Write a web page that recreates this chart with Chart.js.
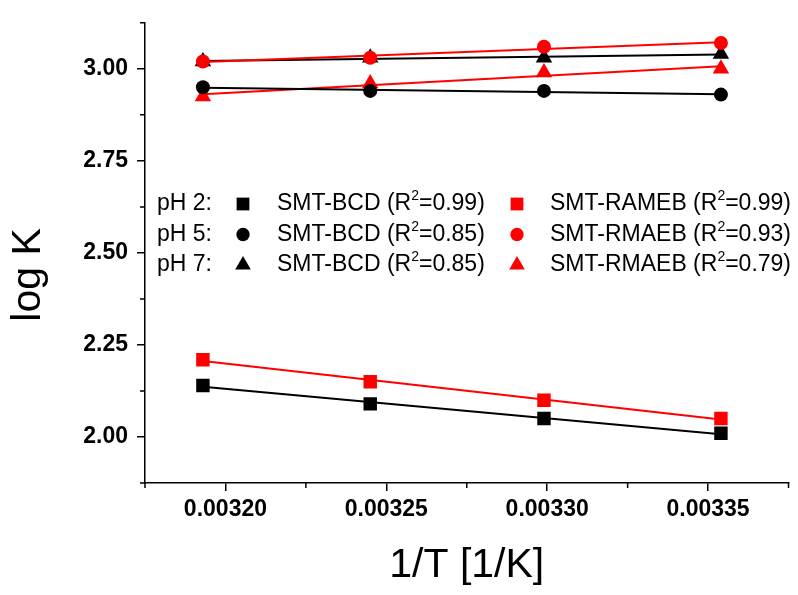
<!DOCTYPE html>
<html>
<head>
<meta charset="utf-8">
<script src="https://cdn.jsdelivr.net/npm/chart.js@4.4.0/dist/chart.umd.min.js"></script>
<style>
  html, body { margin: 0; padding: 0; background: #fff; }
  #wrap { width: 798px; height: 595px; }
</style>
</head>
<body>
<div id="wrap"><canvas id="myChart" width="798" height="595"></canvas></div>
<script>
// 1/T in 1/K (40, 35, 30, 25 °C)
const invT = [0.003193, 0.003245, 0.003299, 0.003354];

// log K values
const bcdPH2 = [2.14, 2.09, 2.05, 2.01];
const ramebPH2 = [2.21, 2.15, 2.10, 2.05];
const bcdPH5 = [2.95, 2.94, 2.94, 2.93];
const rmaebPH5 = [3.02, 3.03, 3.06, 3.07];
const bcdPH7 = [3.02, 3.03, 3.03, 3.04];
const rmaebPH7 = [2.925, 2.96, 2.99, 3.00];

const xTicks = [0.00320, 0.00325, 0.00330, 0.00335];
const xTickLabels = ['0.00320', '0.00325', '0.00330', '0.00335'];
const xMinor = [0.003175, 0.003225, 0.003275, 0.003325, 0.003375];
const yTicks = [2.00, 2.25, 2.50, 2.75, 3.00];
const yTickLabels = ['2.00', '2.25', '2.50', '2.75', '3.00'];
const yMinor = [1.875, 2.125, 2.375, 2.625, 2.875, 3.125];

const phLabels = ['pH 2:', 'pH 5:', 'pH 7:'];
const markerStyles = ['rect', 'circle', 'triangle'];
const blackNames = ['SMT-BCD', 'SMT-BCD', 'SMT-BCD'];
const blackR2 = ['0.99', '0.85', '0.85'];
const redNames = ['SMT-RAMEB', 'SMT-RMAEB', 'SMT-RMAEB'];
const redR2 = ['0.99', '0.93', '0.79'];

const FONT = "'Liberation Sans', Arial, sans-serif";
const RED = '#ff0000';
const BLACK = '#000000';
const markerRadius = { rect: 9.5, circle: 7, triangle: 9.5 };
const LEG = 23;

// straight least-squares line between the first and last x
function fitLine(xs, ys) {
  const n = xs.length;
  const mx = xs.reduce((a, b) => a + b, 0) / n;
  const my = ys.reduce((a, b) => a + b, 0) / n;
  let sxy = 0, sxx = 0;
  for (let i = 0; i < n; i++) {
    sxy += (xs[i] - mx) * (ys[i] - my);
    sxx += (xs[i] - mx) * (xs[i] - mx);
  }
  const slope = sxy / sxx;
  const icpt = my - slope * mx;
  return [xs[0], xs[n - 1]].map(x => ({ x: x, y: icpt + slope * x }));
}

function toPoints(ys) {
  return invT.map((x, i) => ({ x: x, y: ys[i] }));
}

const series = [
  { ys: bcdPH2, color: BLACK, style: 'rect' },
  { ys: ramebPH2, color: RED, style: 'rect' },
  { ys: bcdPH5, color: BLACK, style: 'circle' },
  { ys: rmaebPH5, color: RED, style: 'circle' },
  { ys: bcdPH7, color: BLACK, style: 'triangle' },
  { ys: rmaebPH7, color: RED, style: 'triangle' }
];

let datasets = [];
series.forEach(s => {
  datasets.push({
    type: 'line',
    data: fitLine(invT, s.ys),
    borderColor: s.color,
    borderWidth: 2,
    pointRadius: 0,
    fill: false,
    order: 2
  });
  datasets.push({
    type: 'scatter',
    data: toPoints(s.ys),
    pointStyle: s.style,
    pointRadius: markerRadius[s.style],
    pointBackgroundColor: s.color,
    pointBorderWidth: 0,
    showLine: false,
    order: 1
  });
});

const minorTicks = {
  id: 'minorTicks',
  afterDraw(chart) {
    const ctx = chart.ctx;
    const x = chart.scales.x, y = chart.scales.y;
    ctx.save();
    ctx.strokeStyle = BLACK;
    ctx.lineWidth = 1.5;
    ctx.beginPath();
    xMinor.forEach(v => {
      const px = x.getPixelForValue(v);
      ctx.moveTo(px, x.top);
      ctx.lineTo(px, x.top + 5);
    });
    yMinor.forEach(v => {
      const py = y.getPixelForValue(v);
      ctx.moveTo(y.right, py);
      ctx.lineTo(y.right - 5, py);
    });
    ctx.stroke();
    ctx.restore();
  }
};

const textBits = {
  id: 'textBits',
  afterDraw(chart) {
    const ctx = chart.ctx;
    ctx.save();
    ctx.fillStyle = BLACK;
    // y axis title
    ctx.translate(29, 275);
    ctx.rotate(-Math.PI / 2);
    ctx.font = '41px ' + FONT;
    ctx.textAlign = 'center';
    ctx.textBaseline = 'middle';
    ctx.fillText('log K', 0, 0);
    ctx.restore();

    // legend block
    const rowY = [204, 234.5, 265];
    const drawR2 = (name, r2, x, y) => {
      ctx.font = LEG + 'px ' + FONT;
      ctx.textAlign = 'left';
      ctx.textBaseline = 'middle';
      const head = name + ' (R';
      ctx.fillText(head, x, y);
      let w = ctx.measureText(head).width;
      ctx.font = '14px ' + FONT;
      ctx.fillText('2', x + w, y - 7.5);
      w += ctx.measureText('2').width;
      ctx.font = LEG + 'px ' + FONT;
      ctx.fillText('=' + r2 + ')', x + w, y);
    };
    for (let i = 0; i < 3; i++) {
      const y = rowY[i];
      ctx.save();
      ctx.fillStyle = BLACK;
      ctx.font = LEG + 'px ' + FONT;
      ctx.textAlign = 'left';
      ctx.textBaseline = 'middle';
      ctx.fillText(phLabels[i], 157, y);
      const st = markerStyles[i];
      const opts = { pointStyle: st, radius: markerRadius[st] * 0.95, rotation: 0, borderWidth: 0 };
      ctx.fillStyle = BLACK;
      Chart.helpers.drawPoint(ctx, opts, 243, y);
      ctx.fillStyle = BLACK;
      drawR2(blackNames[i], blackR2[i], 277, y);
      ctx.fillStyle = RED;
      Chart.helpers.drawPoint(ctx, opts, 517, y);
      ctx.fillStyle = BLACK;
      drawR2(redNames[i], redR2[i], 550, y);
      ctx.restore();
    }
  }
};

const tickFont = { family: FONT, size: 23, weight: 'bold' };

let mainChart = new Chart(document.getElementById('myChart').getContext('2d'), {
  type: 'scatter',
  data: { datasets: datasets },
  options: {
    responsive: false,
    animation: false,
    devicePixelRatio: 1,
    layout: { padding: { top: 10, right: 8, left: 0, bottom: 0 } },
    plugins: {
      legend: { display: false },
      tooltip: { enabled: false }
    },
    scales: {
      x: {
        type: 'linear',
        min: 0.003175,
        max: 0.003375,
        afterBuildTicks: s => { s.ticks = xTicks.map(v => ({ value: v })); },
        afterFit: s => { s.height = 112; },
        ticks: {
          callback: v => xTickLabels[xTicks.indexOf(v)],
          font: tickFont,
          color: BLACK,
          padding: 5,
          maxRotation: 0,
          autoSkip: false
        },
        grid: { drawOnChartArea: false, color: BLACK, lineWidth: 1.5, tickLength: 8 },
        border: { color: BLACK, width: 1.5 },
        title: {
          display: true,
          text: '1/T [1/K]',
          color: BLACK,
          font: { family: FONT, size: 41 },
          padding: { top: 0, bottom: 5 }
        }
      },
      y: {
        type: 'linear',
        min: 1.875,
        max: 3.125,
        afterBuildTicks: s => { s.ticks = yTicks.map(v => ({ value: v })); },
        afterFit: s => { s.width = 145; },
        ticks: {
          callback: v => yTickLabels[yTicks.indexOf(v)],
          font: tickFont,
          color: BLACK,
          padding: 9
        },
        grid: { drawOnChartArea: false, color: BLACK, lineWidth: 1.5, tickLength: 8 },
        border: { color: BLACK, width: 1.5 }
      }
    }
  },
  plugins: [minorTicks, textBits]
});
</script>
</body>
</html>
